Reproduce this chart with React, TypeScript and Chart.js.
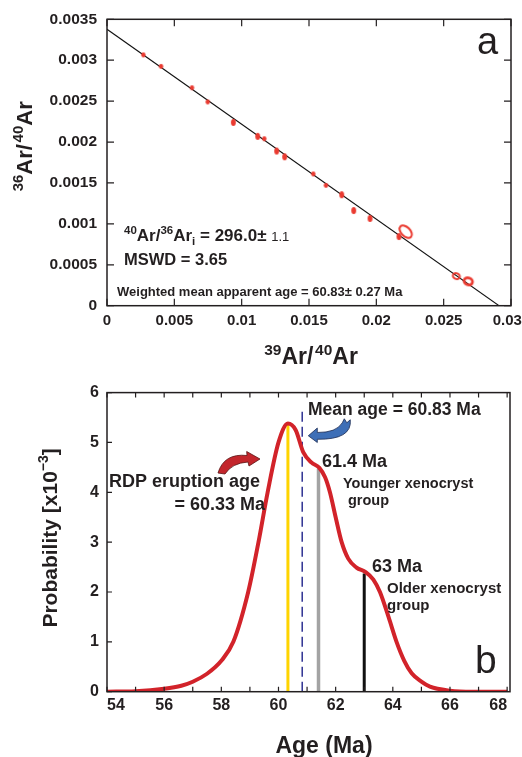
import React, { useEffect, useRef } from 'react';
import { Chart, registerables } from 'chart.js';

Chart.register(...registerables);

const FONT = '"Liberation Sans", Arial, Helvetica, sans-serif';
const INK = '#231f20';

// ---------- Panel a : inverse isochron ----------
const isoX = [0.0027, 0.00401, 0.00631, 0.00748, 0.00938, 0.01119, 0.01168, 0.0126, 0.01319, 0.01532, 0.01626, 0.01743, 0.01832, 0.01953, 0.02168, 0.02218, 0.02594, 0.02683];
const isoY = [0.003065, 0.002924, 0.002663, 0.00249, 0.00224, 0.00207, 0.00204, 0.00189, 0.00182, 0.00161, 0.00147, 0.001356, 0.001163, 0.001066, 0.000845, 0.000905, 0.000362, 0.000298];
// marker kind per analysis (error ellipse appearance)
const isoMarker = ['dot', 'dot', 'dot', 'dot', 'tall', 'tall', 'dot', 'tall', 'tall', 'dot', 'dot', 'tall', 'tall', 'tall', 'tall', 'ringLarge', 'ring', 'ringThick'];
const isochronY0 = 0.003378; // 36Ar/40Ar intercept (1/296.0)
const isochronX0 = 0.02911; // 39Ar/40Ar intercept
const isoXTicks = [0, 0.005, 0.01, 0.015, 0.02, 0.025, 0.03];
const isoXLabels = ['0', '0.005', '0.01', '0.015', '0.02', '0.025', '0.03'];
const isoYTicks = [0, 0.0005, 0.001, 0.0015, 0.002, 0.0025, 0.003, 0.0035];
const isoYLabels = ['0', '0.0005', '0.001', '0.0015', '0.002', '0.0025', '0.003', '0.0035'];

// ---------- Panel b : probability density ----------
const ages = [54.0, 55.0, 56.0, 56.6, 57.0, 57.5, 58.0, 58.42, 58.94, 59.3, 59.62, 60.0, 60.33, 60.6, 60.87, 61.15, 61.43, 61.63, 61.8, 62.0, 62.21, 62.44, 62.73, 63.05, 63.32, 63.55, 63.85, 64.13, 64.4, 64.66, 65.0, 65.3, 66.0, 66.8, 68.0];
const probs = [0, 0.01, 0.06, 0.12, 0.2, 0.36, 0.62, 1.0, 2.0, 3.0, 4.0, 5.0, 5.38, 5.25, 4.8, 4.6, 4.49, 4.3, 4.0, 3.5, 3.0, 2.67, 2.49, 2.4, 2.25, 2.0, 1.5, 1.0, 0.62, 0.37, 0.2, 0.1, 0.02, 0, 0];
const refAges = [60.33, 60.83, 61.4, 63.0]; // eruption, mean, younger, older
const refTops = [5.37, 5.63, 4.47, 2.37];
const ageTicks = [54, 56, 58, 60, 62, 64, 66, 68];
const ageLabels = ['54', '56', '58', '60', '62', '64', '66', '68'];
const ageMinor = [54, 55, 56, 57, 58, 59, 60, 61, 62, 63, 64, 65, 66, 67, 68];
const probTicks = [0, 1, 2, 3, 4, 5, 6];
const probLabels = ['0', '1', '2', '3', '4', '5', '6'];

type Run = { t: string; size: number; w?: string; dy?: number };

function fnt(size: number, w = 'bold') {
  return `${w} ${size}px ${FONT}`;
}

function drawRuns(ctx: CanvasRenderingContext2D, runs: Run[], x: number, y: number, align: 'left' | 'center' | 'right' = 'left') {
  let total = 0;
  for (const r of runs) {
    ctx.font = fnt(r.size, r.w ?? 'bold');
    total += ctx.measureText(r.t).width;
  }
  let cx = align === 'left' ? x : align === 'center' ? x - total / 2 : x - total;
  ctx.textAlign = 'left';
  ctx.textBaseline = 'alphabetic';
  for (const r of runs) {
    ctx.font = fnt(r.size, r.w ?? 'bold');
    ctx.fillText(r.t, cx, y + (r.dy ?? 0));
    cx += ctx.measureText(r.t).width;
  }
}

type Cmd = (string | number)[];
function drawShape(ctx: CanvasRenderingContext2D, ox: number, oy: number, cmds: Cmd[], fill: string, stroke: string) {
  ctx.beginPath();
  for (const c of cmds) {
    const n = c as any[];
    if (n[0] === 'M') ctx.moveTo(ox + n[1], oy + n[2]);
    else if (n[0] === 'L') ctx.lineTo(ox + n[1], oy + n[2]);
    else if (n[0] === 'Q') ctx.quadraticCurveTo(ox + n[1], oy + n[2], ox + n[3], oy + n[4]);
  }
  ctx.closePath();
  ctx.fillStyle = fill;
  ctx.fill();
  ctx.strokeStyle = stroke;
  ctx.lineWidth = 0.8;
  ctx.stroke();
}

function ellipseMarker(rx: number, ry: number, angleDeg: number, filled: boolean, lw: number, color: string) {
  const s = Math.ceil(2 * Math.max(rx, ry) + lw + 4);
  const c = document.createElement('canvas');
  c.width = s;
  c.height = s;
  const g = c.getContext('2d')!;
  g.translate(s / 2, s / 2);
  g.beginPath();
  g.ellipse(0, 0, rx, ry, (angleDeg * Math.PI) / 180, 0, Math.PI * 2);
  if (filled) {
    g.fillStyle = color;
    g.fill();
  } else {
    g.strokeStyle = color;
    g.lineWidth = lw;
    g.stroke();
  }
  return c;
}

const panelAPlugin = {
  id: 'panelA',
  afterDatasetsDraw(chart: any) {
    const { ctx, chartArea: a } = chart;
    const x = chart.scales.x;
    const y = chart.scales.y;
    ctx.save();
    ctx.strokeStyle = INK;
    ctx.lineWidth = 1.2;
    ctx.beginPath();
    for (const v of isoXTicks) {
      const px = x.getPixelForValue(v);
      ctx.moveTo(px, a.bottom);
      ctx.lineTo(px, a.bottom - 7);
      ctx.moveTo(px, a.top);
      ctx.lineTo(px, a.top + 7);
    }
    for (const v of isoYTicks) {
      const py = y.getPixelForValue(v);
      ctx.moveTo(a.left, py);
      ctx.lineTo(a.left + 7, py);
      ctx.moveTo(a.right, py);
      ctx.lineTo(a.right - 7, py);
    }
    ctx.stroke();
    ctx.lineWidth = 1.5;
    ctx.strokeRect(a.left, a.top, a.right - a.left, a.bottom - a.top);

    ctx.fillStyle = INK;
    drawRuns(ctx, [
      { t: '40', size: 11.5, dy: -7 },
      { t: 'Ar/', size: 17 },
      { t: '36', size: 11.5, dy: -7 },
      { t: 'Ar', size: 17 },
      { t: 'i', size: 11.5, dy: 4 },
      { t: ' = 296.0\u00b1 ', size: 17 },
      { t: '1.1', size: 13, w: 'normal' },
    ], a.left + 17, a.top + 221.6);
    drawRuns(ctx, [{ t: 'MSWD = 3.65', size: 16.5 }], a.left + 17, a.top + 246);
    drawRuns(ctx, [{ t: 'Weighted mean apparent age = 60.83\u00b1 0.27 Ma', size: 13 }], a.left + 10, a.top + 276.3);
    drawRuns(ctx, [{ t: 'a', size: 38, w: 'normal' }], a.left + 370, a.top + 34.3);
    ctx.restore();
  },
  afterDraw(chart: any) {
    const { ctx, chartArea: a } = chart;
    ctx.save();
    ctx.fillStyle = INK;
    // x title
    drawRuns(ctx, [
      { t: '39', size: 15.5, dy: -9.5 },
      { t: 'Ar/', size: 23 },
      { t: ' ', size: 6 },
      { t: '40', size: 15.5, dy: -9.5 },
      { t: 'Ar', size: 23 },
    ], a.left + 204, a.bottom + 58.3, 'center');
    // y title
    ctx.translate(a.left - 75, a.top + 127);
    ctx.rotate(-Math.PI / 2);
    drawRuns(ctx, [
      { t: '36', size: 15, dy: -9 },
      { t: 'Ar/', size: 22 },
      { t: ' ', size: 6 },
      { t: '40', size: 15, dy: -9 },
      { t: 'Ar', size: 22 },
    ], 0, 0, 'center');
    ctx.restore();
  },
};

const panelBPlugin = {
  id: 'panelB',
  afterDatasetsDraw(chart: any) {
    const { ctx, chartArea: a } = chart;
    const x = chart.scales.x;
    const y = chart.scales.y;
    const X = (v: number) => x.getPixelForValue(v);
    const Y = (v: number) => y.getPixelForValue(v);
    ctx.save();
    ctx.strokeStyle = INK;
    ctx.lineWidth = 1.2;
    ctx.beginPath();
    for (const v of ageMinor) {
      const px = X(v);
      ctx.moveTo(px, a.bottom);
      ctx.lineTo(px, a.bottom - 5);
      ctx.moveTo(px, a.top);
      ctx.lineTo(px, a.top + 5);
    }
    for (const v of probTicks) {
      const py = Y(v);
      ctx.moveTo(a.left, py);
      ctx.lineTo(a.left + 5, py);
    }
    ctx.stroke();
    ctx.lineWidth = 1.5;
    ctx.strokeRect(a.left, a.top, a.right - a.left, a.bottom - a.top);

    // arrows
    drawShape(ctx, X(59.353), Y(4.668), [
      ['M', -42, 14], ['Q', -36, -6, -13, -3.5], ['L', -13.3, -7.5], ['L', 0, 0], ['L', -11, 7], ['L', -12, 3], ['Q', -28, 4, -35, 15],
    ], '#c3262c', '#5a1414');
    drawShape(ctx, X(61.043), Y(5.134), [
      ['M', 0, 0], ['L', 9, -7.7], ['L', 9, -3.3], ['Q', 28, -3, 34, -13], ['L', 36, -17], ['L', 38.5, -13], ['L', 42, -16], ['Q', 44, 4, 9, 3.5], ['L', 9, 6.7],
    ], '#3e6fb7', '#1b2a52');

    ctx.fillStyle = INK;
    drawRuns(ctx, [{ t: 'Mean age = 60.83 Ma', size: 17.5 }], X(61.033), Y(5.554));
    drawRuns(ctx, [{ t: '61.4 Ma', size: 18 }], X(61.523), Y(4.5));
    drawRuns(ctx, [{ t: 'Younger xenocryst', size: 14.5 }], X(62.258), Y(4.088));
    drawRuns(ctx, [{ t: 'group', size: 14.5 }], X(62.432), Y(3.754));
    drawRuns(ctx, [{ t: 'RDP eruption age', size: 18 }], X(54.07), Y(4.1));
    drawRuns(ctx, [{ t: '= 60.33 Ma', size: 18 }], X(59.528), Y(3.648), 'right');
    drawRuns(ctx, [{ t: '63 Ma', size: 18 }], X(63.272), Y(2.4));
    drawRuns(ctx, [{ t: 'Older xenocryst', size: 15 }], X(63.797), Y(1.988));
    drawRuns(ctx, [{ t: 'group', size: 15 }], X(63.797), Y(1.634));
    drawRuns(ctx, [{ t: 'b', size: 39, w: 'normal' }], X(66.876), Y(0.38));
    ctx.restore();
  },
  afterDraw(chart: any) {
    const { ctx, chartArea: a } = chart;
    ctx.save();
    ctx.fillStyle = INK;
    drawRuns(ctx, [{ t: 'Age (Ma)', size: 23 }], a.left + 217, a.bottom + 61.3, 'center');
    ctx.translate(a.left - 50, a.top + 145.3);
    ctx.rotate(-Math.PI / 2);
    drawRuns(ctx, [
      { t: 'Probability [x10', size: 21 },
      { t: '\u22123', size: 14, dy: -9 },
      { t: ']', size: 21 },
    ], 0, 0, 'center');
    ctx.restore();
  },
};

function axisCommon(values: number[], labels: string[], size: number, padding: number, lastPad = '') {
  return {
    type: 'linear' as const,
    grid: { display: false, drawTicks: false },
    border: { display: false },
    afterBuildTicks: (scale: any) => {
      scale.ticks = values.map((v) => ({ value: v }));
    },
    ticks: {
      autoSkip: false,
      maxRotation: 0,
      minRotation: 0,
      padding,
      color: INK,
      font: { family: FONT, size, weight: 'bold' as const },
      callback: (_v: any, i: number) => (i === labels.length - 1 ? labels[i] + lastPad : labels[i]),
    },
  };
}

export default function App() {
  const refA = useRef<HTMLCanvasElement>(null);
  const refB = useRef<HTMLCanvasElement>(null);

  useEffect(() => {
    const red = '#ea3a30';
    const markers: Record<string, HTMLCanvasElement> = {
      dot: ellipseMarker(2.2, 2.4, 0, true, 0, red),
      tall: ellipseMarker(2.4, 3.5, 0, true, 0, red),
      ringLarge: ellipseMarker(7.5, 4.5, 45, false, 2, red),
      ring: ellipseMarker(3.6, 2.9, 20, false, 1.9, red),
      ringThick: ellipseMarker(4.3, 3.5, 20, false, 2.7, red),
    };

    const chartA = new Chart(refA.current!, {
      type: 'scatter',
      data: {
        datasets: [
          {
            data: isoX.map((v, i) => ({ x: v, y: isoY[i] })),
            pointStyle: (c: any) => markers[isoMarker[c.dataIndex ?? 0]] ?? 'circle',
            pointRadius: 4,
            backgroundColor: red,
            borderColor: red,
          } as any,
          {
            data: [{ x: 0, y: isochronY0 }, { x: isochronX0, y: 0 }],
            showLine: true,
            borderColor: '#111111',
            borderWidth: 1.1,
            pointRadius: 0,
          } as any,
        ],
      },
      options: {
        responsive: true,
        maintainAspectRatio: false,
        animation: false,
        events: [],
        layout: { padding: { left: 0, top: 15.7, right: 29, bottom: 0 } },
        plugins: { legend: { display: false }, tooltip: { enabled: false } },
        scales: {
          x: { ...axisCommon(isoXTicks, isoXLabels, 15, 6, '\u2002'), min: 0, max: 0.03, afterFit: (s: any) => { s.height = 69.3; } },
          y: { ...axisCommon(isoYTicks, isoYLabels, 15.5, 10), min: 0, max: 0.0035, afterFit: (s: any) => { s.width = 107; } },
        } as any,
      },
      plugins: [panelAPlugin],
    });

    const chartB = new Chart(refB.current!, {
      type: 'scatter',
      data: {
        datasets: [
          {
            data: ages.map((v, i) => ({ x: v, y: probs[i] })),
            showLine: true,
            borderColor: '#d2232a',
            borderWidth: 4,
            pointRadius: 0,
            tension: 0.4,
            cubicInterpolationMode: 'monotone',
          } as any,
          {
            data: [{ x: refAges[0], y: 0 }, { x: refAges[0], y: refTops[0] }],
            showLine: true, borderColor: '#ffd400', borderWidth: 3, pointRadius: 0,
          } as any,
          {
            data: [{ x: refAges[1], y: 0 }, { x: refAges[1], y: refTops[1] }],
            showLine: true, borderColor: '#2e3192', borderWidth: 1.5, borderDash: [10, 5], pointRadius: 0,
          } as any,
          {
            data: [{ x: refAges[2], y: 0 }, { x: refAges[2], y: refTops[2] }],
            showLine: true, borderColor: '#a3a3a3', borderWidth: 3.5, pointRadius: 0,
          } as any,
          {
            data: [{ x: refAges[3], y: 0 }, { x: refAges[3], y: refTops[3] }],
            showLine: true, borderColor: '#111111', borderWidth: 3, pointRadius: 0,
          } as any,
        ],
      },
      options: {
        responsive: true,
        maintainAspectRatio: false,
        animation: false,
        events: [],
        layout: { padding: { left: 0, top: 16.7, right: 12, bottom: 0 } },
        plugins: { legend: { display: false }, tooltip: { enabled: false } },
        scales: {
          x: {
            ...axisCommon(ageTicks, ageLabels, 16, 4),
            min: 54,
            max: 68.1,
            afterFit: (s: any) => { s.height = 65.3; },
          },
          y: { ...axisCommon(probTicks, probLabels, 16, 8), min: 0, max: 6, afterFit: (s: any) => { s.width = 107; } },
        } as any,
      },
      plugins: [panelBPlugin],
    });
    (chartB.options.scales as any).x.ticks.align = 'inner';
    chartB.update();

    return () => {
      chartA.destroy();
      chartB.destroy();
    };
  }, []);

  return (
    <div style={{ position: 'absolute', left: 0, top: 0, width: 522, height: 757, overflow: 'hidden', background: '#ffffff' }}>
      <div style={{ position: 'absolute', left: 0, top: 0, width: 540, height: 375 }}>
        <canvas ref={refA} />
      </div>
      <div style={{ position: 'absolute', left: 0, top: 375, width: 522, height: 382 }}>
        <canvas ref={refB} />
      </div>
    </div>
  );
}
